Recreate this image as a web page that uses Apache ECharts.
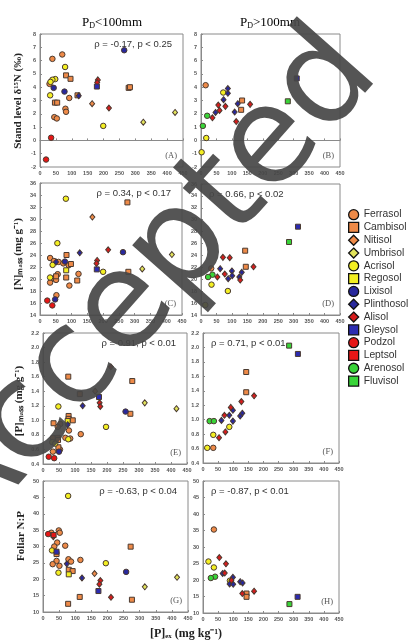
<!DOCTYPE html>
<html>
<head>
<meta charset="utf-8">
<script src="https://cdn.jsdelivr.net/npm/echarts@6/dist/echarts.min.js"></script>
<style>
  html,body{margin:0;padding:0;background:#fff;}
  #chart{width:409px;height:643px;}
</style>
</head>
<body>
<div id="chart"></div>
<script>
// soil groups, legend order
const soils = ['Ferrasol','Cambisol','Nitisol','Umbrisol','Acrisol','Regosol','Lixisol','Plinthosol','Alisol','Gleysol','Podzol','Leptsol','Arenosol','Fluvisol'];
const soilSymbols = ['circle','rect','diamond','diamond','circle','rect','circle','diamond','diamond','rect','circle','rect','circle','rect'];
const soilColors = ['#ee8a48','#ee8a48','#ee8a48','#e2e45c','#f3ef22','#f3ef22','#28289c','#28289c','#d61c1c','#2b2bb0','#e61616','#e61616','#38d438','#38d438'];

// [soil, [P]ex, value]
const panelA = [
  ['Lixisol',265,6.78],['Ferrasol',70,6.46],['Ferrasol',39,6.13],['Acrisol',79,5.52],
  ['Cambisol',82,4.89],['Cambisol',96,4.63],['Acrisol',48,4.61],['Acrisol',39,4.56],
  ['Acrisol',33,4.4],['Ferrasol',30,4.25],['Lixisol',43,3.95],['Alisol',182,4.55],
  ['Alisol',180,4.35],['Gleysol',179,4.05],['Cambisol',279,3.95],['Cambisol',283,4.0],
  ['Lixisol',77,3.67],['Acrisol',32,3.39],['Cambisol',118,3.39],['Plinthosol',122,3.35],
  ['Ferrasol',92,3.19],['Cambisol',47,2.84],['Cambisol',54,2.84],['Nitisol',164,2.76],
  ['Alisol',217,2.43],['Ferrasol',80,2.38],['Ferrasol',82,2.15],['Ferrasol',45,1.75],
  ['Ferrasol',53,1.65],['Acrisol',199,1.09],['Umbrisol',325,1.37],['Umbrisol',425,2.1],
  ['Podzol',35,0.2],['Podzol',19,-1.44]
];
const panelB = [
  ['Gleysol',310,4.66],['Fluvisol',281,2.94],['Ferrasol',15,4.15],['Plinthosol',87,3.9],
  ['Plinthosol',87,3.54],['Acrisol',72,3.6],['Plinthosol',73,3.06],['Cambisol',133,3.0],
  ['Plinthosol',119,2.76],['Alisol',56,2.66],['Alisol',79,2.56],['Alisol',159,2.71],
  ['Alisol',60,2.25],['Plinthosol',47,2.1],['Plinthosol',109,2.13],['Cambisol',130,2.3],
  ['Arenosol',20,1.85],['Alisol',37,1.7],['Alisol',114,1.42],['Arenosol',6,1.09],
  ['Acrisol',17,0.18],['Acrisol',2,-0.89]
];
const panelC = [
  ['Acrisol',82,33.38],['Cambisol',277,32.77],['Nitisol',166,30.32],['Acrisol',55,25.97],
  ['Plinthosol',126,24.36],['Alisol',216,24.86],['Lixisol',263,24.47],['Umbrisol',418,24.07],
  ['Umbrisol',324,21.68],['Cambisol',84,24.0],['Ferrasol',32,23.5],['Ferrasol',44,23.0],
  ['Plinthosol',51,22.85],['Ferrasol',59,22.85],['Ferrasol',74,22.6],['Cambisol',98,22.5],
  ['Ferrasol',91,22.3],['Acrisol',40,22.35],['Lixisol',79,22.9],['Alisol',181,23.1],
  ['Alisol',179,22.6],['Ferrasol',122,20.85],['Gleysol',180,21.6],['Acrisol',200,21.2],
  ['Regosol',83,21.45],['Cambisol',280,21.2],['Ferrasol',56,20.8],['Cambisol',51,20.45],
  ['Acrisol',32,20.25],['Ferrasol',43,20.1],['Cambisol',83,20.25],['Ferrasol',51,19.85],
  ['Cambisol',118,19.75],['Ferrasol',32,19.4],['Ferrasol',93,18.9],['Ferrasol',52,17.3],
  ['Lixisol',48,16.6],['Podzol',23,16.4],['Podzol',39,15.6]
];
const panelD = [
  ['Gleysol',314,28.83],['Fluvisol',285,26.26],['Cambisol',143,24.8],['Cambisol',145,22.1],
  ['Alisol',71,23.68],['Alisol',93,23.63],['Alisol',170,22.1],['Ferrasol',33,21.83],
  ['Plinthosol',62,21.78],['Plinthosol',100,21.4],['Plinthosol',132,21.16],['Alisol',77,20.88],
  ['Plinthosol',101,20.6],['Arenosol',37,20.77],['Arenosol',23,20.38],['Alisol',53,20.38],
  ['Plinthosol',88,20.1],['Plinthosol',124,20.38],['Alisol',127,19.87],['Acrisol',34,19.1],
  ['Acrisol',87,18.03],['Acrisol',14,15.68]
];
const panelE = [
  ['Alisol',212,1.735],['Cambisol',79,1.6],['Cambisol',279,1.54],['Nitisol',163,1.4],
  ['Cambisol',115,1.36],['Gleysol',175,1.32],['Alisol',177,1.24],['Alisol',179,1.19],
  ['Umbrisol',318,1.24],['Umbrisol',417,1.16],['Plinthosol',124,1.2],['Acrisol',48,1.19],
  ['Lixisol',258,1.12],['Cambisol',273,1.09],['Cambisol',80,1.06],['Cambisol',80,1.02],
  ['Cambisol',93,1.0],['Regosol',77,0.99],['Cambisol',33,0.96],['Ferrasol',54,0.95],
  ['Ferrasol',46,0.91],['Plinthosol',77,0.94],['Acrisol',197,0.91],['Ferrasol',81,0.86],
  ['Ferrasol',118,0.81],['Ferrasol',31,0.76],['Ferrasol',70,0.76],['Ferrasol',85,0.75],
  ['Cambisol',46,0.76],['Cambisol',47,0.73],['Acrisol',79,0.74],['Acrisol',29,0.7],
  ['Acrisol',38,0.68],['Cambisol',48,0.63],['Ferrasol',53,0.6],['Ferrasol',50,0.58],
  ['Ferrasol',31,0.57],['Podzol',18,0.5],['Podzol',35,0.48],['Lixisol',50,0.57]
];
const panelF = [
  ['Fluvisol',285,2.025],['Gleysol',314,1.91],['Cambisol',143,1.66],['Cambisol',143,1.38],
  ['Alisol',169,1.33],['Alisol',127,1.25],['Alisol',92,1.17],['Plinthosol',99,1.13],
  ['Plinthosol',130,1.09],['Alisol',71,1.06],['Plinthosol',87,1.06],['Plinthosol',123,1.05],
  ['Plinthosol',61,0.99],['Plinthosol',99,0.98],['Arenosol',22,0.98],['Arenosol',36,0.98],
  ['Acrisol',87,0.9],['Alisol',74,0.83],['Acrisol',34,0.79],['Alisol',53,0.75],
  ['Acrisol',14,0.61],['Ferrasol',34,0.61]
];
const panelG = [
  ['Acrisol',78,45.44],['Ferrasol',49,34.9],['Ferrasol',52,34.2],['Ferrasol',26,34.2],
  ['Podzol',16,33.8],['Leptsol',33,33.5],['Alisol',32,33.0],['Ferrasol',44,31.2],
  ['Ferrasol',35,30.0],['Ferrasol',69,30.25],['Cambisol',272,29.95],['Acrisol',28,28.8],
  ['Gleysol',42,28.4],['Cambisol',42,27.7],['Ferrasol',42,25.6],['Ferrasol',79,26.1],
  ['Ferrasol',87,25.4],['Ferrasol',116,25.9],['Ferrasol',30,24.6],['Plinthosol',74,24.7],
  ['Acrisol',195,24.9],['Ferrasol',51,24.1],['Acrisol',48,22.0],['Nitisol',160,21.75],
  ['Lixisol',258,22.25],['Cambisol',80,22.9],['Cambisol',92,22.5],['Regosol',80,21.5],
  ['Umbrisol',416,20.6],['Plinthosol',121,20.4],['Alisol',178,19.6],['Alisol',175,18.5],
  ['Gleysol',172,16.4],['Umbrisol',316,17.7],['Alisol',211,14.5],['Cambisol',114,14.6],
  ['Cambisol',276,13.75],['Cambisol',78,12.5]
];
const panelH = [
  ['Ferrasol',36,35.3],['Acrisol',18,25.6],['Acrisol',36,23.8],['Alisol',54,26.8],
  ['Alisol',76,24.9],['Alisol',72,22.1],['Plinthosol',65,22.0],['Plinthosol',99,20.8],
  ['Arenosol',40,21.0],['Arenosol',26,20.6],['Alisol',94,19.9],['Acrisol',89,19.8],
  ['Plinthosol',88,18.8],['Plinthosol',100,18.7],['Plinthosol',123,19.5],['Plinthosol',131,19.1],
  ['Alisol',130,15.9],['Alisol',169,16.6],['Cambisol',144,15.9],['Cambisol',144,14.9],
  ['Gleysol',313,14.9],['Fluvisol',286,12.7]
];

const panels = [panelA,panelB,panelC,panelD,panelE,panelF,panelG,panelH];
const yRanges = [[-2,8,1],[-2,8,1],[14,36,2],[14,36,2],[0.4,2.2,0.2],[0.4,2.2,0.2],[10,50,5],[10,50,5]];
const rhoText = ['ρ = -0.17, p < 0.25','','ρ = 0.34, p < 0.17','ρ = 0.66, p < 0.02','ρ = 0.91, p < 0.01','ρ = 0.71, p < 0.01','ρ = -0.63, p < 0.04','ρ = -0.87, p < 0.01'];
const panelLabels = ['(A)','(B)','(C)','(D)','(E)','(F)','(G)','(H)'];

// layout of the 8 boxes [left, top, width, height]
const boxes = [
  [40,34,143,133],[201,34,139,133],
  [40,183,142,132],[201,184,139,131],
  [43,333,144,131],[203,333,136,130],
  [43,481,145,131],[203,481,136,132]
];

const chart = echarts.init(document.getElementById('chart'));

const grid = boxes.map(b=>({left:b[0],top:b[1],width:b[2],height:b[3],show:true,borderColor:'#8a8a8a',borderWidth:1,backgroundColor:'#fff'}));

const tickFont = {fontSize:5.5,fontWeight:'bold',color:'#555',fontFamily:'Liberation Sans'};

const xAxis = boxes.map((b,i)=>({
  type:'value',gridIndex:i,min:0,max:450,interval:50,
  axisLine:{show:true,lineStyle:{color:'#8a8a8a',width:1}},
  axisTick:{show:true,inside:true,length:2,lineStyle:{color:'#8a8a8a'}},
  splitLine:{show:false},
  axisLabel:Object.assign({margin:3},tickFont)
}));

const yAxis = yRanges.map((r,i)=>({
  type:'value',gridIndex:i,min:r[0],max:r[1],interval:r[2],
  axisLine:{show:true,lineStyle:{color:'#8a8a8a',width:1}},
  axisTick:{show:true,inside:true,length:2,lineStyle:{color:'#8a8a8a'}},
  splitLine:{show:false},
  axisLabel:Object.assign({margin:4,formatter:v=> r[2]<1 ? v.toFixed(1) : String(Math.round(v))},tickFont)
}));

const series=[];
panels.forEach((pts,p)=>{
  soils.forEach((s,k)=>{
    const sym=soilSymbols[k];
    series.push({
      type:'scatter',name:s,xAxisIndex:p,yAxisIndex:p,
      symbol:sym,
      symbolSize: sym==='diamond'?[5,6]:(sym==='rect'?5:5.5),
      itemStyle:{color:soilColors[k],borderColor:'#4a3a30',borderWidth:1,opacity:1},
      data:pts.filter(d=>d[0]===s).map(d=>[d[1],d[2]]),
      z:3
    });
  });
});

const graphic=[];
// column headers
const headFont={fontFamily:'Liberation Serif',fontSize:13,color:'#222',lineHeight:13,verticalAlign:'bottom'};
const subFont={fontFamily:'Liberation Serif',fontSize:8,color:'#222',lineHeight:7,verticalAlign:'bottom'};
graphic.push({type:'text',x:112,y:23,style:{text:'{p|P}{d|D}{p|<100mm}',rich:{p:headFont,d:subFont},align:'center',verticalAlign:'middle',textAlign:'center',textVerticalAlign:'middle'}});
graphic.push({type:'text',x:270,y:23,style:{text:'{p|P}{d|D}{p|>100mm}',rich:{p:headFont,d:subFont},align:'center',verticalAlign:'middle',textAlign:'center',textVerticalAlign:'middle'}});

// y axis titles
const yTitles=[['Stand level δ¹⁵N (‰)',18,101],['[N]ₘₐₛₛ (mg g⁻¹)',18,254],['[P]ₘₐₛₛ (mg g⁻¹)',19,401],['Foliar N:P',21,536]];
yTitles.forEach(t=>{
  graphic.push({type:'text',x:t[1],y:t[2],rotation:Math.PI/2,
    style:{text:t[0],font:'bold 11px "Liberation Serif"',fill:'#222',align:'center',verticalAlign:'middle',textAlign:'center',textVerticalAlign:'middle'}});
});
// x axis title
graphic.push({type:'text',x:186,y:634,style:{text:'[P]ₑₓ (mg kg⁻¹)',font:'bold 12px "Liberation Serif"',fill:'#222',align:'center',verticalAlign:'middle',textAlign:'center',textVerticalAlign:'middle'}});

// correlation notes and panel letters
boxes.forEach((b,i)=>{
  const left = i%2===1;
  if(rhoText[i]){
    graphic.push({type:'text',x: left ? b[0]+8 : b[0]+b[2]-11, y:b[1]+10,
      style:{text:rhoText[i],font:'9.5px "Liberation Sans"',fill:'#333',align:left?'left':'right',verticalAlign:'middle',textAlign:left?'left':'right',textVerticalAlign:'middle'}});
  }
  graphic.push({type:'text',x:b[0]+b[2]-6,y:b[1]+b[3]-11,
    style:{text:panelLabels[i],font:'8.5px "Liberation Serif"',fill:'#555',align:'right',verticalAlign:'middle',textAlign:'right',textVerticalAlign:'middle'}});
});

// watermark: anchor the first "c" where it sits in the scan, word along ~49 deg
const wmWord='Accepted', wmFamily='"DejaVu Sans"';
const ctx=document.createElement('canvas').getContext('2d');
ctx.font='100px '+wmFamily;
const mw=s=>ctx.measureText(s).width;
const cPos=mw('A')+mw('c')/2, ePos=mw('Accepte')-mw('e')/2;
const drawFix=1.18; // rendered spacing came out wider than measured
const k=436/(drawFix*(ePos-cPos)), wmSize=100*k;
const th=48.5*Math.PI/180;
const u=[Math.cos(th),-Math.sin(th)], dn=[Math.sin(th),Math.cos(th)];
const anchor=[45,408];
const wmStart=[anchor[0]-cPos*k*drawFix*u[0]-0.03*wmSize*dn[0], anchor[1]-cPos*k*drawFix*u[1]-0.03*wmSize*dn[1]];
graphic.push({type:'text',x:wmStart[0],y:wmStart[1],rotation:th,z:100,zlevel:1,
  style:{text:wmWord,font:wmSize.toFixed(1)+'px '+wmFamily,fill:'rgba(70,70,70,0.92)',align:'left',verticalAlign:'middle',textAlign:'left',textVerticalAlign:'middle'}});

chart.setOption({
  animation:false,
  backgroundColor:'#fff',
  grid:grid,
  xAxis:xAxis,
  yAxis:yAxis,
  legend:{
    data:soils,orient:'vertical',left:348,top:209,padding:0,
    itemWidth:10,itemHeight:10,itemGap:1.5,
    itemStyle:{borderColor:'#111',borderWidth:1.3},
    textStyle:{fontFamily:'Liberation Sans',fontSize:10.3,color:'#333'},
    selectedMode:false
  },
  graphic:graphic,
  series:series
});
</script>
</body>
</html>
